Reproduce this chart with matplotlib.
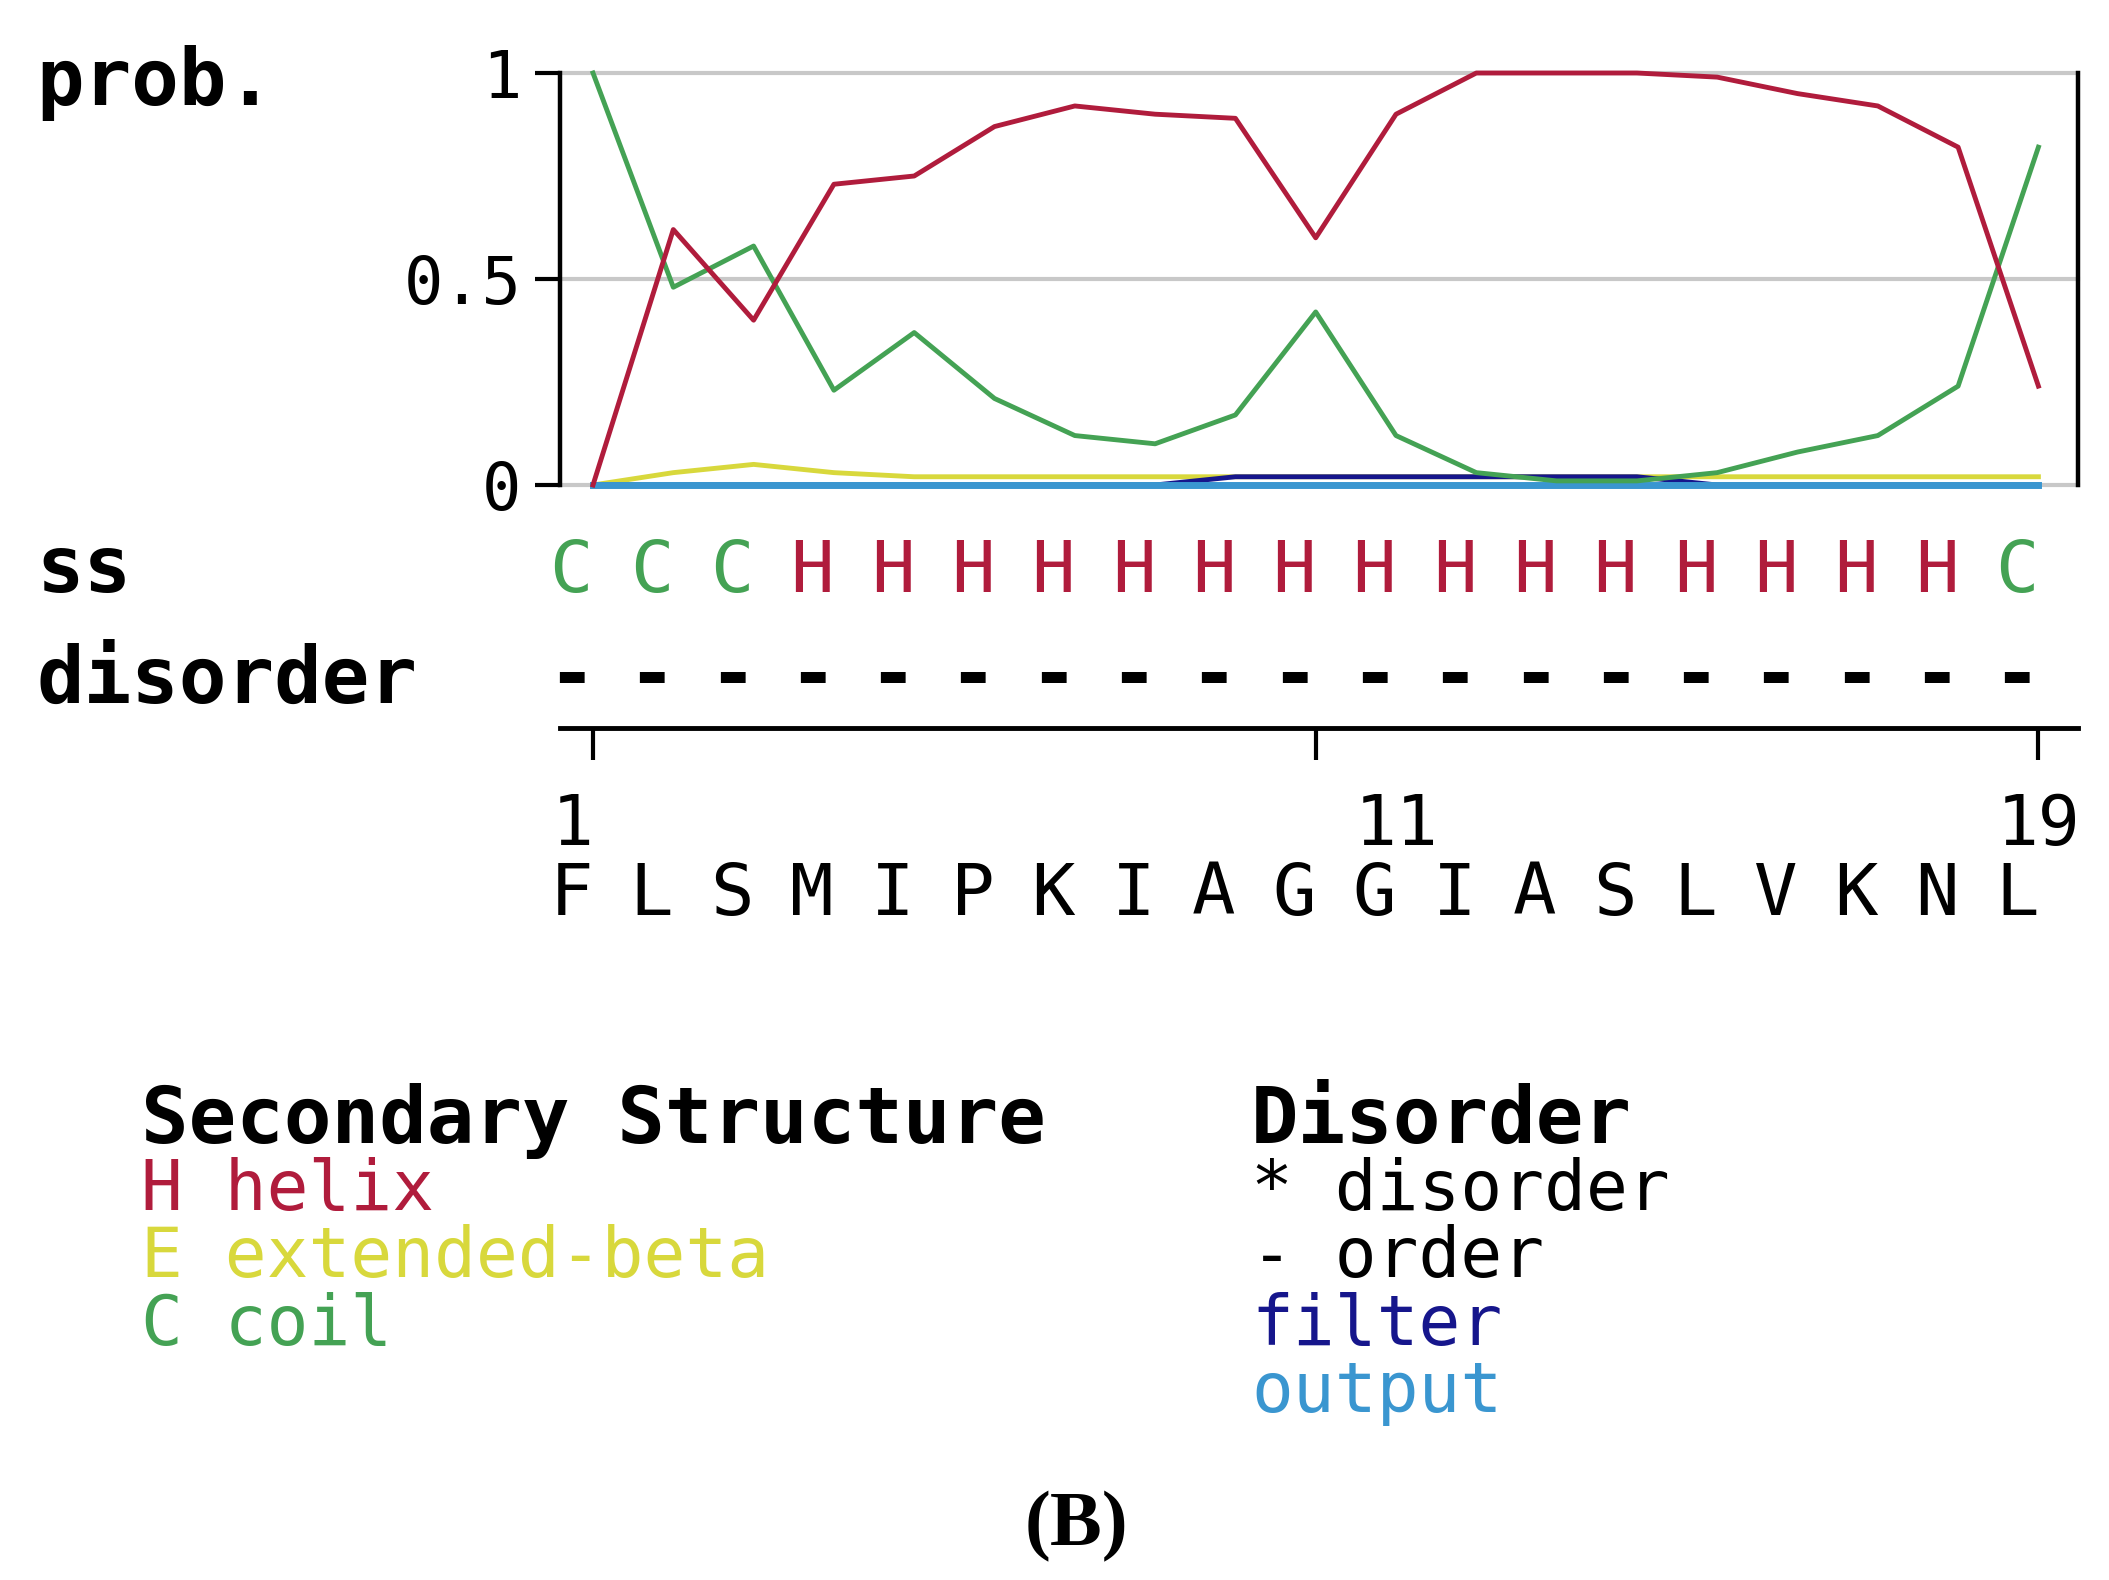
import numpy as np
import matplotlib
matplotlib.use("Agg")
import matplotlib.pyplot as plt
import matplotlib.transforms as mtransforms

plt.rcParams["font.family"] = ["DejaVu Sans Mono"]

# Data
residues = [1, 2, 3, 4, 5, 6, 7, 8, 9, 10, 11, 12, 13, 14, 15, 16, 17, 18, 19]
sequence = "FLSMIPKIAGGIASLVKNL"
ss_pred = "CCCHHHHHHHHHHHHHHHC"
disorder_pred = "-------------------"

helix = [0.00, 0.62, 0.40, 0.73, 0.75, 0.87, 0.92, 0.90, 0.89, 0.60,
         0.90, 1.00, 1.00, 1.00, 0.99, 0.95, 0.92, 0.82, 0.24]
coil = [1.00, 0.48, 0.58, 0.23, 0.37, 0.21, 0.12, 0.10, 0.17, 0.42,
        0.12, 0.03, 0.01, 0.01, 0.03, 0.08, 0.12, 0.24, 0.82]
extended = [0.00, 0.03, 0.05, 0.03, 0.02, 0.02, 0.02, 0.02, 0.02, 0.02,
            0.02, 0.02, 0.02, 0.02, 0.02, 0.02, 0.02, 0.02, 0.02]
disorder_filter = [0.00, 0.00, 0.00, 0.00, 0.00, 0.00, 0.00, 0.00, 0.02, 0.02,
                   0.02, 0.02, 0.02, 0.02, 0.00, 0.00, 0.00, 0.00, 0.00]
disorder_output = [0.00] * 19

yticks = [0, 0.5, 1]
ytick_labels = ["0", "0.5", "1"]
ruler_ticks = [1, 10, 19]
ruler_labels = ["1", "11", "19"]
ruler_label_pos = [1, 11, 19]

# Colours
c_helix = "#b01c3c"
c_ext = "#d8d83c"
c_coil = "#44a254"
c_filter = "#16168c"
c_output = "#3a96d0"
c_grid = "#c8c8c8"

W, H = 2109, 1580
fig = plt.figure(figsize=(W / 100, H / 100), dpi=100, facecolor="white")


def fy(px):
    return 1 - px / H


# Probability panel
ax = fig.add_axes([560 / W, fy(485), (2078 - 560) / W, (485 - 73) / H])
ax.set_xlim(0.589, 19.493)
ax.set_ylim(0, 1)

for y in yticks:
    ax.axhline(y, color=c_grid, lw=3, zorder=1, clip_on=False)

ax.plot(residues, extended, color=c_ext, lw=3.5, zorder=2, clip_on=False)
ax.plot(residues, disorder_filter, color=c_filter, lw=3.5, zorder=3, clip_on=False)
ax.plot(residues, disorder_output, color=c_output, lw=5, zorder=4, clip_on=False)
ax.plot(residues, coil, color=c_coil, lw=3.5, zorder=5, clip_on=False)
ax.plot(residues, helix, color=c_helix, lw=3.5, zorder=6, clip_on=False)

for side in ["top", "bottom"]:
    ax.spines[side].set_visible(False)
for side in ["left", "right"]:
    ax.spines[side].set_linewidth(3.2)
    ax.spines[side].set_color("black")

ax.set_xticks([])
ax.set_yticks(yticks, labels=ytick_labels)
ax.tick_params(axis="y", length=18, width=3, pad=10, labelsize=47)

# Ruler under the rows
ax2 = fig.add_axes([560 / W, fy(728), (2078 - 560) / W, 0.0001])
ax2.set_xlim(ax.get_xlim())
ax2.set_yticks([])
for side in ["top", "left", "right"]:
    ax2.spines[side].set_visible(False)
ax2.spines["bottom"].set_linewidth(3.5)
ax2.set_xticks(ruler_ticks, labels=[""] * len(ruler_ticks))
ax2.tick_params(axis="x", length=23, width=3, direction="out")
ax2.patch.set_visible(False)

trans = mtransforms.blended_transform_factory(ax.transData, fig.transFigure)
ss_colors = {"H": c_helix, "E": c_ext, "C": c_coil}

for r, s, d, aa in zip(residues, ss_pred, disorder_pred, sequence):
    ax.text(r - 0.27, fy(592), s, transform=trans, ha="center", va="baseline",
            fontsize=52, color=ss_colors[s])
    ax.text(r - 0.27, fy(700), d, transform=trans, ha="center", va="baseline",
            fontsize=58, fontweight="bold", color="black")
    ax.text(r - 0.27, fy(915), aa, transform=trans, ha="center", va="baseline",
            fontsize=52, color="black")

for pos, lab in zip(ruler_label_pos, ruler_labels):
    ax.text(pos - 0.52, fy(845), lab, transform=trans, ha="left", va="baseline",
            fontsize=50, color="black")

# Row labels
for label, base in [("prob.", 105), ("ss", 592), ("disorder", 703)]:
    fig.text(36 / W, fy(base), label, ha="left", va="baseline",
             fontsize=57, fontweight="bold", color="black")

# Legend blocks
fig.text(141 / W, fy(1143), "Secondary Structure", ha="left", va="baseline",
         fontsize=57, fontweight="bold", color="black")
ss_legend = [("H helix", c_helix), ("E extended-beta", c_ext), ("C coil", c_coil)]
for i, (txt, col) in enumerate(ss_legend):
    fig.text(141 / W, fy(1210 + i * 67.5), txt, ha="left", va="baseline",
             fontsize=50, color=col)

fig.text(1251 / W, fy(1143), "Disorder", ha="left", va="baseline",
         fontsize=57, fontweight="bold", color="black")
dis_legend = [("* disorder", "black"), ("- order", "black"),
              ("filter", c_filter), ("output", c_output)]
for i, (txt, col) in enumerate(dis_legend):
    fig.text(1251 / W, fy(1210 + i * 67.5), txt, ha="left", va="baseline",
             fontsize=50, color=col)

fig.text(1076 / W, fy(1545), "(B)", ha="center", va="baseline",
         fontsize=56, fontweight="bold", family="Liberation Serif", color="black")

fig.savefig("out.png", dpi=100, facecolor="white")
